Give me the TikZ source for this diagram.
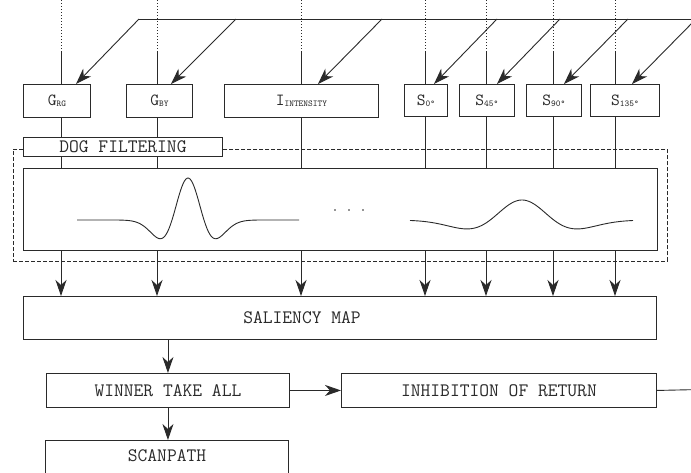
\documentclass[tikz,border=0pt]{standalone}
\usepackage{fontspec}
\usetikzlibrary{arrows.meta}
\definecolor{ink}{HTML}{2A2A2A}
\newcommand\mylbl[2]{{\fontsize{17}{17}\selectfont #1}\raisebox{-1pt}{\fontsize{9}{9}\selectfont #2}}
\tikzset{
  box/.style={draw=ink, line width=0.9pt, fill=white, anchor=north west, inner sep=0pt,
              font=\fontsize{19}{19}\selectfont\ttfamily, text=ink},
  txt/.style={inner sep=0pt, font=\fontsize{19}{19}\selectfont\ttfamily, text=ink},
  wire/.style={draw=ink, line width=0.9pt},
  arr/.style={wire, -{Stealth[length=16pt,width=11pt,inset=5pt]}},
  dotline/.style={draw=ink, line width=0.8pt, dash pattern=on 1pt off 2pt},
  zone/.style={draw=ink, line width=0.9pt, dash pattern=on 4pt off 2pt, anchor=north west, inner sep=0pt},
  wave/.style={draw=ink, line width=0.9pt, smooth}
}
\begin{document}
\begin{tikzpicture}[x=1pt, y=-1pt]
\clip (0,0) rectangle (691,472);
\fill[white] (0,0) rectangle (691,472);

% feature boxes
\node[box, minimum width=67pt, minimum height=33pt] (grg) at (23,84) {\mylbl{G}{RG}};
\node[box, minimum width=66pt, minimum height=33pt] (gby) at (126,84) {\mylbl{G}{BY}};
\node[box, minimum width=154pt, minimum height=33pt] (int) at (224,84) {\mylbl{I}{INTENSITY}};
\node[box, minimum width=43pt, minimum height=32pt] (sa) at (404,84) {\mylbl{S}{0°}};
\node[box, minimum width=55pt, minimum height=32pt] (sb) at (459,84) {\mylbl{S}{45°}};
\node[box, minimum width=55pt, minimum height=32pt] (sc) at (526,84) {\mylbl{S}{90°}};
\node[box, minimum width=69pt, minimum height=32pt] (sd) at (590,84) {\mylbl{S}{135°}};

% DoG zone and filter box
\node[zone, minimum width=654pt, minimum height=112pt] (dogzone) at (13,149) {};
\node[box, minimum width=634pt, minimum height=82pt] (filter) at (23,168) {};

% saliency and lower boxes
\node[box, minimum width=633pt, minimum height=43pt] (sal) at (23,296) {};
\node[txt] (saltext) at (302,318) {SALIENCY MAP};
\node[box, minimum width=243pt, minimum height=34pt] (wta) at (46,373) {WINNER TAKE ALL};
\node[box, minimum width=315pt, minimum height=34pt] (ior) at (341,373) {INHIBITION OF RETURN};
\node[box, minimum width=243pt, minimum height=45pt] (scan) at (45,440) {};
\node[txt] (scantext) at (167,456) {SCANPATH};

% columns
\foreach \x/\b in {61/grg,157/gby,301/int,425/sa,486/sb,553/sc,615/sd}{
  \coordinate (top-\b) at (\x,0);
  \coordinate (mid-\b) at (\x,52);
  \draw[dotline] (top-\b) -- (mid-\b);
  \draw[wire] (mid-\b) -- (mid-\b |- \b.north);
  \draw[wire] (mid-\b |- \b.south) -- (mid-\b |- filter.north);
  \draw[arr] (mid-\b |- filter.south) -- (mid-\b |- sal.north);
}

% DoG label box
\node[box, minimum width=199pt, minimum height=19pt] (doglabel) at (23,137) {DOG FILTERING};

% top feed line and diagonal arrows
\coordinate (feedA) at (139,19);
\coordinate (feedZ) at (700,19);
\draw[wire] (feedA) -- (feedZ);
\foreach \sx/\b/\off in {139/grg/53,236/gby/45,382/int/94,497/sa/30,560/sb/38,628/sc/38,696/sd/42}{
  \coordinate (src-\b) at (\sx,19);
  \draw[arr] (src-\b) -- ([xshift=\off pt]\b.north west);
}

% waves
\draw[wave] plot[domain=-111:111, samples=160]
  ({188+\x}, {220-42*(1-(\x/16)^2)*exp(-0.5*(\x/16)^2)});
\draw[wave] plot[domain=-112:111, samples=160]
  ({522+\x}, {220-20*(1-(\x/31.8)^2)*exp(-0.5*(\x/31.8)^2)});
\foreach \d in {335,349,363}{
  \fill[ink] (\d,210) circle (0.9pt);
}

% lower flow
\draw[arr] (wta.north |- sal.south) -- (wta.north);
\draw[arr] (wta.east) -- (ior.west);
\coordinate (exit) at (700,389.5);
\draw[wire] (ior.east) -- (exit);
\draw[arr] (wta.south) -- (wta.south |- scan.north);
\end{tikzpicture}
\end{document}
